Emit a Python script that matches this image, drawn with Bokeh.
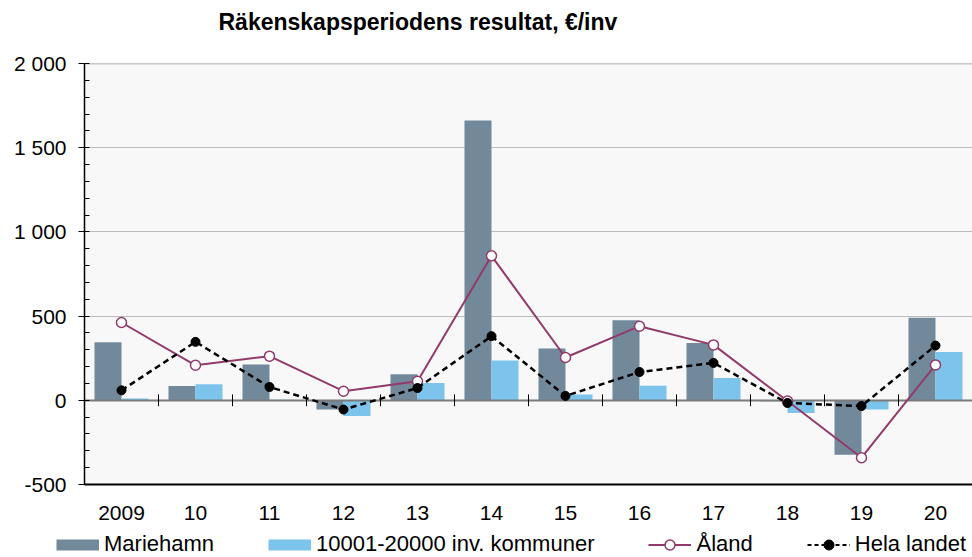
import numpy as np
from bokeh.plotting import figure
from bokeh.layouts import column, row
from bokeh.models import Range1d, FixedTicker, Legend, LegendItem, Label
from bokeh.embed import file_html
from bokeh.resources import INLINE

years = ["2009", "10", "11", "12", "13", "14", "15", "16", "17", "18", "19", "20"]
mariehamn = [345, 85, 212, -55, 155, 1662, 308, 476, 341, -6, -323, 490]
kommuner = [10, 95, 4, -93, 103, 236, 34, 87, 133, -75, -55, 287]
aland = [462, 208, 262, 54, 113, 858, 254, 440, 329, -4, -341, 210]
hela = [59, 347, 79, -55, 73, 381, 26, 168, 222, -16, -34, 325]
y_ticks = [-500, 0, 500, 1000, 1500, 2000]
series_names = ["Mariehamn", "10001-20000 inv. kommuner", "Åland", "Hela landet"]
title_text = "Räkenskapsperiodens resultat, €/inv"

FONT = "Liberation Sans"
C_MH = "#72899c"
C_KOM = "#7cc4ec"
C_AL = "#923a6a"
W = 972

n = len(years)
centers = np.arange(n) + 0.5
bw = 0.365

# ---------- title strip ----------
pt = figure(width=W, height=42, output_backend="svg", toolbar_location=None,
            x_range=Range1d(0, W), y_range=Range1d(0, 42),
            x_axis_type=None, y_axis_type=None, min_border=0,
            outline_line_color=None, background_fill_color="white",
            border_fill_color="white")
pt.grid.visible = False
pt.add_layout(Label(x=218, y=21, text=title_text, text_font=FONT,
                    text_font_size="23px", text_font_style="bold",
                    text_color="black", text_baseline="middle", text_align="left"))

# ---------- main chart ----------
p = figure(width=W, height=488, output_backend="svg", toolbar_location=None,
           x_range=Range1d(0, n), y_range=Range1d(-500, 2000),
           min_border_left=84, min_border_right=0, min_border_top=21, min_border_bottom=46,
           background_fill_color="#f8f8f8", border_fill_color="white",
           outline_line_color=None)

p.xgrid.visible = False
p.ygrid.ticker = FixedTicker(ticks=[t for t in y_ticks if 0 < t < 2000])
p.ygrid.grid_line_color = "#808080"
p.ygrid.grid_line_dash = "1 1"
p.ygrid.grid_line_width = 1

yax = p.yaxis[0]
yax.ticker = FixedTicker(ticks=y_ticks, minor_ticks=list(range(-500, 2001, 100)))
yax.major_label_overrides = {t: f"{t:,}".replace(",", " ") for t in y_ticks}
yax.axis_line_color = "black"
yax.axis_line_width = 1.5
yax.major_tick_out = 6
yax.major_tick_in = 0
yax.minor_tick_in = 5
yax.minor_tick_out = 0
yax.major_tick_line_color = "black"
yax.minor_tick_line_color = "black"
yax.major_label_text_font = FONT
yax.major_label_text_font_size = "21px"
yax.major_label_text_color = "black"
yax.major_label_standoff = 12

xax = p.xaxis[0]
xax.ticker = FixedTicker(ticks=list(centers))
xax.major_label_overrides = {float(c): y for c, y in zip(centers, years)}
xax.axis_line_color = "black"
xax.axis_line_width = 2
xax.major_tick_in = 0
xax.major_tick_out = 0
xax.major_label_text_font = FONT
xax.major_label_text_font_size = "21px"
xax.major_label_text_color = "black"
xax.major_label_standoff = 21

p.vbar(x=centers - bw / 2, top=mariehamn, bottom=0, width=bw,
       fill_color=C_MH, line_color=None)
p.vbar(x=centers + bw / 2, top=kommuner, bottom=0, width=bw,
       fill_color=C_KOM, line_color=None)

p.hspan(y=[0], line_color="#7a7a7a", line_width=2)
p.hspan(y=[y_ticks[-1]], line_color="#333333", line_width=1.5, line_dash="1 1")

bounds = np.arange(1, n)
p.segment(x0=bounds, x1=bounds, y0=-35, y1=35, line_color="black", line_width=1)

p.line(centers, aland, line_color=C_AL, line_width=2)
p.scatter(centers, aland, size=10, fill_color="white", line_color=C_AL, line_width=1.5)
p.line(centers, hela, line_color="black", line_width=2.5, line_dash="6 4")
p.scatter(centers, hela, size=9, fill_color="black", line_color="black")

# ---------- legend strip (series drawn out of view; only legend glyphs show) ----------
pl = figure(width=W, height=27, output_backend="svg", toolbar_location=None,
            x_range=Range1d(0, n), y_range=Range1d(5000, 5001),
            x_axis_type=None, y_axis_type=None, min_border=0,
            outline_line_color=None, background_fill_color="white",
            border_fill_color="white")
pl.grid.visible = False
g_mh = pl.line(centers, mariehamn, line_color=C_MH, line_width=11, line_cap="butt")
g_kom = pl.line(centers, kommuner, line_color=C_KOM, line_width=11, line_cap="butt")
g_al_l = pl.line(centers, aland, line_color=C_AL, line_width=2)
g_al_s = pl.scatter(centers, aland, fill_color="white", line_color=C_AL, line_width=1.5)
g_h_l = pl.line(centers, hela, line_color="black", line_width=2, line_dash="4 3")
g_h_s = pl.scatter(centers, hela, fill_color="black", line_color="black")

legend = Legend(items=[
    LegendItem(label=series_names[0], renderers=[g_mh]),
    LegendItem(label=series_names[1], renderers=[g_kom]),
    LegendItem(label=series_names[2], renderers=[g_al_l, g_al_s]),
    LegendItem(label=series_names[3], renderers=[g_h_l, g_h_s]),
], orientation="horizontal", location=(56, 0),
    label_text_font=FONT, label_text_font_size="22px", label_text_color="black",
    glyph_width=43, glyph_height=25, spacing=54, label_standoff=5,
    padding=0, margin=0, border_line_color=None, background_fill_alpha=0)
pl.add_layout(legend, "center")

layout = column(row(pt), p, row(pl), spacing=0)
open("out.html", "w").write(file_html(layout, INLINE))
